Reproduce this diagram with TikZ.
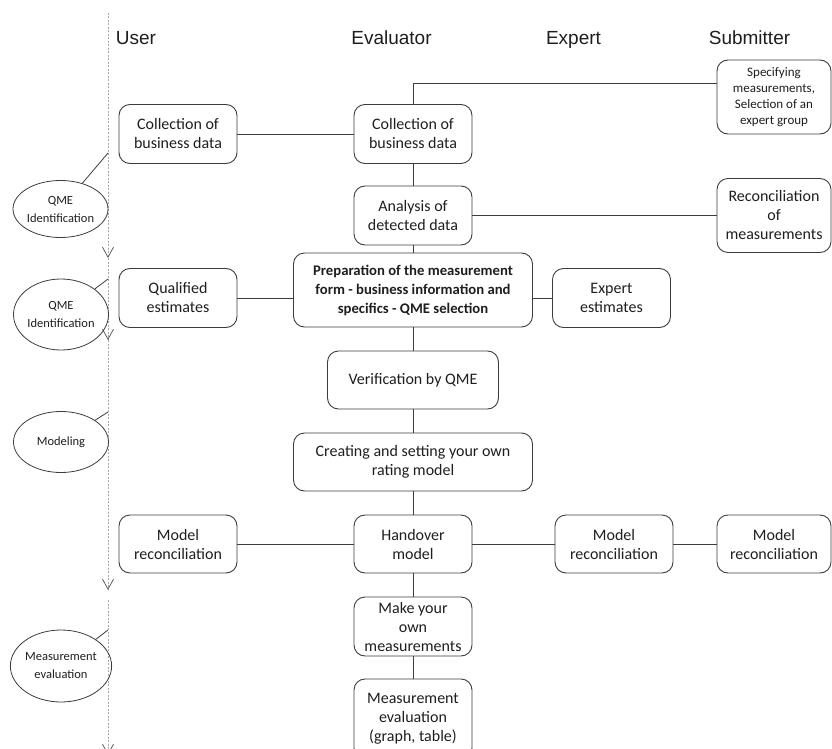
\documentclass[tikz,border=0pt]{standalone}
\usepackage{fontspec}
\setmainfont{Carlito}
\newfontfamily\headfont{Liberation Sans}
\usetikzlibrary{shapes.geometric,arrows.meta}
\definecolor{boxline}{HTML}{3C3C3C}
\definecolor{laneline}{HTML}{A8A8A8}
\definecolor{tipgray}{HTML}{606060}
\definecolor{inkc}{HTML}{1E1E1E}

\begin{document}
\begin{tikzpicture}[x=1pt, y=-1pt,
  proc/.style={draw=boxline, line width=0.9pt, rounded corners=11pt, align=center,
    text=inkc, font=\fontsize{16}{19}\selectfont, inner sep=1pt,
    minimum width=118pt, minimum height=59pt},
  phase/.style={draw=boxline, line width=0.8pt, ellipse, align=center, inner sep=0pt,
    text=inkc, font=\fontsize{12.5}{18}\selectfont, minimum width=95pt},
  lane/.style={laneline, line width=0.8pt, dash pattern=on 2pt off 1.5pt,
    -{Straight Barb[length=10pt,width=11pt,color=tipgray]}},
  head/.style={anchor=base, text=inkc, font=\headfont\fontsize{19}{22}\selectfont},
  link/.style={boxline, line width=0.8pt}]
\useasboundingbox (0,0) rectangle (832,749);
\clip (0,0) rectangle (832,749);

\node[head] (huser) at (136,45) {User};
\node[head] (heval) at (391.5,45) {Evaluator};
\node[head] (hexpert) at (573.5,45) {Expert};
\node[head] (hsubm) at (749.5,45) {Submitter};

\draw[lane] (108,13) -- (108,258);
\draw[lane] (108,258) -- (108,340);
\draw[lane] (108,340) -- (108,590);
\draw[lane] (108,600) -- (108,755);
\coordinate (lane1) at (108,153);
\coordinate (lane2) at (108,279);
\coordinate (lane3) at (108,412);
\coordinate (lane4) at (108,630);

\node[phase, minimum height=57pt] (qme1) at (60.5,209) {QME\\Identification};
\node[phase, minimum height=71pt] (qme2) at (61,314.5) {QME\\Identification};
\node[phase, minimum height=61pt] (model) at (61,442) {Modeling};
\node[phase, minimum height=72pt] (meas) at (61,666) {Measurement\\evaluation};
\draw[link] (qme1) -- (lane1);
\draw[link] (qme2) -- (lane2);
\draw[link] (model) -- (lane3);
\draw[link] (meas) -- (lane4);

\node[proc] (ucoll) at (178,134) {Collection of\\business data};
\node[proc] (ecoll) at (413,134) {Collection of\\business data};
\node[proc, minimum width=114pt, minimum height=74pt, font=\fontsize{13}{16}\selectfont] (sspec) at (774,97) {Specifying\\measurements,\\Selection of an\\expert group};
\node[proc] (eanal) at (413,215.5) {Analysis of\\detected data};
\node[proc, minimum width=114pt, minimum height=74pt] (srec) at (774,215.5) {Reconciliation\\of\\measurements};
\node[proc, minimum width=239pt, minimum height=74pt, font=\bfseries\fontsize{14.7}{19}\selectfont] (eprep) at (413,290) {Preparation of the measurement\\form - business information and\\specifics - QME selection};
\node[proc] (uqual) at (178,298) {Qualified\\estimates};
\node[proc] (xexp) at (611.5,298) {Expert\\estimates};
\node[proc, minimum width=171pt, minimum height=58pt] (ever) at (413,380) {Verification by QME};
\node[proc, minimum width=239pt, minimum height=58pt] (ecreat) at (413,462) {Creating and setting your own\\rating model};
\node[proc, minimum height=58pt] (ehand) at (413,544) {Handover\\model};
\node[proc, minimum height=58pt] (umod) at (178,544) {Model\\reconciliation};
\node[proc, minimum height=58pt] (xmod) at (614,544) {Model\\reconciliation};
\node[proc, minimum width=114pt, minimum height=58pt] (smod) at (774,544) {Model\\reconciliation};
\node[proc] (emake) at (413,626.5) {Make your\\own\\measurements};
\node[proc, minimum height=80pt] (eeval) at (413,719) {Measurement\\evaluation\\(graph, table)};

\draw[link] (ucoll) -- (ecoll);
\draw[link] (ecoll.north) |- ([yshift=14pt]sspec.west);
\draw[link] (ecoll) -- (eanal);
\draw[link] (eanal) -- (srec);
\draw[link] (eanal) -- (eprep);
\draw[link] (uqual) -- (uqual -| eprep.west);
\draw[link] (eprep.east |- xexp) -- (xexp);
\draw[link] (eprep) -- (ever);
\draw[link] (ever) -- (ecreat);
\draw[link] (ecreat) -- (ehand);
\draw[link] (umod) -- (ehand);
\draw[link] (ehand) -- (xmod);
\draw[link] (xmod) -- (smod);
\draw[link] (ehand) -- (emake);
\draw[link] (emake) -- (eeval);
\end{tikzpicture}
\end{document}
